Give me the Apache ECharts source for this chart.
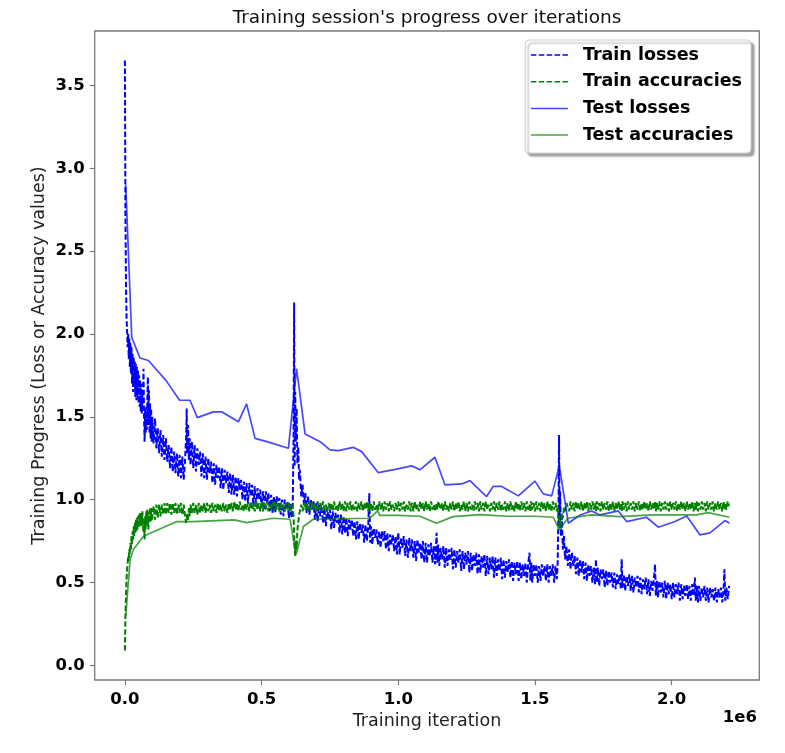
<!DOCTYPE html>
<html>
<head>
<meta charset="utf-8">
<script src="https://cdn.jsdelivr.net/npm/echarts@6/dist/echarts.min.js"></script>
<style>
  html, body { margin: 0; padding: 0; background: #fff; }
  #main { width: 785px; height: 753px; }
</style>
</head>
<body>
<div id="main"></div>
<script>
// iterations where the train metrics were logged (in thousands)
let trainIterK = [
    0, 2, 4, 6, 8, 10, 12, 14, 16, 18,
    20, 22, 24, 26, 28, 30, 32, 34, 36, 38,
    40, 42, 44, 46, 48, 50, 52, 54, 56, 58,
    60, 62, 64, 66, 68, 70, 72, 74, 76, 78,
    80, 82, 84, 86, 88, 90, 92, 94, 96, 98,
    100, 105, 110, 115, 120, 125, 130, 135, 140, 145,
    150, 155, 160, 165, 170, 175, 180, 185, 190, 195,
    200, 205, 210, 215, 220,
    224, 226, 228, 231, 234, 237, 240, 245,
    250, 255, 260, 265, 270, 275, 280, 285, 290, 295,
    300, 305, 310, 315, 320, 325, 330, 335, 340, 345,
    350, 355, 360, 365, 370, 375, 380, 385, 390, 395,
    400, 405, 410, 415, 420, 425, 430, 435, 440, 445,
    450, 455, 460, 465, 470, 475, 480, 485, 490, 495,
    500, 505, 510, 515, 520, 525, 530, 535, 540, 545,
    550, 555, 560, 565, 570, 575, 580, 585, 590, 595,
    600, 605, 610, 614,
    617, 619, 621, 623, 625, 628, 631, 634, 637, 640, 645, 650, 655, 660,
    665, 670, 675, 680, 685, 690, 695, 700,
    705, 710, 715, 720, 725, 730, 735, 740, 745, 750,
    755, 760, 765, 770, 775, 780, 785, 790, 795, 800,
    805, 810, 815, 820, 825, 830, 835, 840, 845, 850,
    855, 860, 865, 870, 875, 880, 885, 890,
    894, 897,
    900, 905, 910, 915, 920, 925, 930, 935, 940, 945,
    950, 955, 960, 965, 970, 975, 980, 985, 990, 995,
    1000, 1005, 1010, 1015, 1020, 1025, 1030, 1035, 1040, 1045,
    1050, 1055, 1060, 1065, 1070, 1075, 1080, 1085, 1090, 1095,
    1100, 1105, 1110, 1115, 1120, 1125, 1130, 1135, 1140,
    1143, 1146,
    1150, 1155, 1160, 1165, 1170, 1175, 1180, 1185, 1190, 1195,
    1200, 1205, 1210, 1215, 1220, 1225, 1230, 1235, 1240, 1245,
    1250, 1255, 1260, 1265, 1270, 1275, 1280, 1285, 1290, 1295,
    1300, 1305, 1310, 1315, 1320, 1325, 1330, 1335, 1340, 1345,
    1350, 1355, 1360, 1365, 1370, 1375, 1380, 1385, 1390, 1395,
    1400, 1405, 1410, 1415, 1420, 1425, 1430, 1435, 1440, 1445,
    1450, 1455, 1460, 1465, 1470, 1475, 1480,
    1483, 1486,
    1490, 1495, 1500, 1505, 1510, 1515, 1520, 1525, 1530, 1535,
    1540, 1545, 1550, 1555, 1560, 1565, 1570, 1575, 1580,
    1583, 1586, 1588, 1590, 1592, 1595, 1598, 1602, 1606, 1610, 1615,
    1620, 1625, 1630, 1635, 1640, 1645, 1650, 1655, 1660, 1665,
    1670, 1675, 1680, 1685, 1690, 1695, 1700, 1705, 1710, 1715, 1720,
    1723, 1726,
    1730, 1735, 1740, 1745, 1750, 1755, 1760, 1765, 1770, 1775,
    1780, 1785, 1790, 1795, 1800, 1805, 1810,
    1814, 1817,
    1820, 1825, 1830, 1835, 1840, 1845, 1850, 1855, 1860, 1865,
    1870, 1875, 1880, 1885, 1890, 1895, 1900, 1905, 1910, 1915,
    1920, 1925, 1930, 1935,
    1939, 1942, 1946,
    1950, 1955, 1960, 1965, 1970, 1975, 1980, 1985, 1990, 1995,
    2000, 2005, 2010, 2015, 2020, 2025, 2030, 2035, 2040, 2045,
    2050, 2055, 2060, 2065, 2070, 2075, 2080,
    2085, 2088, 2092, 2096,
    2100, 2105, 2110, 2115, 2120, 2125, 2130, 2135, 2140, 2145,
    2150, 2155, 2160, 2165, 2170, 2175, 2180, 2185, 2190,
    2193, 2196, 2200, 2205, 2210
];

let trainLoss = [
    3.65, 2.70, 2.30, 2.10, 2.02, 1.92, 2.00, 1.85, 1.98, 1.80,
    1.95, 1.76, 1.92, 1.70, 1.88, 1.65, 1.86, 1.68, 1.84, 1.62,
    1.82, 1.60, 1.80, 1.62, 1.78, 1.58, 1.75, 1.56, 1.72, 1.53,
    1.70, 1.52, 1.66, 1.55, 1.79, 1.50, 1.35, 1.55, 1.40, 1.56,
    1.42, 1.60, 1.74, 1.45, 1.66, 1.40, 1.58, 1.37, 1.55, 1.35,
    1.50, 1.34, 1.49, 1.31, 1.43, 1.28, 1.42, 1.26, 1.39, 1.24,
    1.37, 1.23, 1.33, 1.19, 1.32, 1.17, 1.29, 1.16, 1.28, 1.14,
    1.27, 1.13, 1.26, 1.12, 1.24,
    1.38, 1.55, 1.28, 1.45, 1.24, 1.37, 1.21, 1.35,
    1.19, 1.33, 1.17, 1.31, 1.21, 1.29, 1.14, 1.28, 1.13, 1.26,
    1.12, 1.25, 1.16, 1.23, 1.10, 1.22, 1.09, 1.21, 1.13, 1.20,
    1.07, 1.19, 1.06, 1.18, 1.10, 1.17, 1.04, 1.16, 1.03, 1.15,
    1.03, 1.14, 1.02, 1.13, 1.06, 1.12, 1.00, 1.11, 0.99, 1.10,
    0.98, 1.10, 1.02, 1.09, 0.96, 1.08, 0.96, 1.07, 1.00, 1.06,
    0.95, 1.05, 0.94, 1.05, 0.98, 1.04, 0.93, 1.03, 0.92, 1.02,
    0.92, 1.02, 0.96, 1.01, 0.91, 1.00, 0.90, 1.00, 0.94, 0.99,
    0.89, 0.98, 0.89, 0.97,
    1.40, 2.19, 1.20, 1.65, 1.35, 1.55, 1.22, 1.32, 1.12, 1.18, 1.02, 1.09, 0.97, 1.04,
    0.92, 1.02, 0.91, 1.00, 0.94, 0.99, 0.88, 0.98,
    0.87, 0.97, 0.90, 0.96, 0.86, 0.95, 0.84, 0.95, 0.88, 0.94,
    0.82, 0.93, 0.83, 0.92, 0.86, 0.91, 0.80, 0.91, 0.79, 0.90,
    0.80, 0.89, 0.78, 0.88, 0.82, 0.88, 0.78, 0.87, 0.76, 0.87,
    0.76, 0.86, 0.80, 0.85, 0.74, 0.85, 0.75, 0.84,
    1.04, 0.74,
    0.84, 0.73, 0.83, 0.77, 0.82, 0.73, 0.81, 0.71, 0.81, 0.75,
    0.81, 0.70, 0.80, 0.69, 0.79, 0.73, 0.79, 0.69, 0.78, 0.67,
    0.80, 0.67, 0.77, 0.71, 0.78, 0.66, 0.76, 0.65, 0.77, 0.69,
    0.76, 0.65, 0.75, 0.63, 0.76, 0.68, 0.74, 0.64, 0.75, 0.62,
    0.74, 0.62, 0.73, 0.66, 0.74, 0.62, 0.72, 0.61, 0.80,
    0.62, 0.73,
    0.60, 0.71, 0.64, 0.72, 0.59, 0.71, 0.60, 0.70, 0.63, 0.71,
    0.58, 0.70, 0.59, 0.69, 0.62, 0.70, 0.57, 0.69, 0.58, 0.68,
    0.61, 0.69, 0.56, 0.68, 0.57, 0.67, 0.60, 0.68, 0.55, 0.67,
    0.56, 0.66, 0.59, 0.67, 0.54, 0.66, 0.55, 0.65, 0.58, 0.66,
    0.53, 0.65, 0.54, 0.64, 0.57, 0.65, 0.52, 0.64, 0.53, 0.63,
    0.56, 0.64, 0.53, 0.63, 0.51, 0.62, 0.55, 0.63, 0.51, 0.62,
    0.52, 0.61, 0.54, 0.62, 0.50, 0.61, 0.68,
    0.51, 0.62,
    0.50, 0.61, 0.54, 0.61, 0.50, 0.60, 0.51, 0.61, 0.54, 0.60,
    0.51, 0.61, 0.50, 0.60, 0.54, 0.61, 0.50, 0.60, 0.52,
    0.62, 0.95, 1.39, 0.85, 1.05, 0.78, 0.90, 0.70, 0.78, 0.64, 0.72,
    0.60, 0.70, 0.58, 0.68, 0.60, 0.66, 0.55, 0.65, 0.54, 0.64,
    0.56, 0.63, 0.52, 0.62, 0.51, 0.61, 0.54, 0.60, 0.50, 0.59, 0.49,
    0.64, 0.50,
    0.59, 0.48, 0.58, 0.52, 0.58, 0.47, 0.57, 0.48, 0.57, 0.50,
    0.56, 0.47, 0.56, 0.46, 0.55, 0.49, 0.55,
    0.46, 0.64,
    0.47, 0.55, 0.45, 0.54, 0.48, 0.55, 0.45, 0.54, 0.44, 0.53,
    0.47, 0.54, 0.44, 0.53, 0.43, 0.52, 0.46, 0.53, 0.43, 0.52,
    0.42, 0.51, 0.45, 0.52,
    0.61, 0.42, 0.51,
    0.41, 0.51, 0.44, 0.50, 0.41, 0.51, 0.40, 0.50, 0.43, 0.49,
    0.40, 0.50, 0.41, 0.49, 0.43, 0.50, 0.39, 0.49, 0.40, 0.48,
    0.42, 0.49, 0.40, 0.48, 0.39, 0.49, 0.42,
    0.53, 0.39, 0.48, 0.38,
    0.48, 0.39, 0.47, 0.41, 0.48, 0.39, 0.47, 0.38, 0.47, 0.41,
    0.46, 0.39, 0.47, 0.38, 0.46, 0.41, 0.47, 0.38, 0.46,
    0.58, 0.39, 0.47, 0.40, 0.48
];

let trainAcc = [
    0.09, 0.30, 0.42, 0.52, 0.58, 0.62, 0.66, 0.63, 0.70, 0.67,
    0.74, 0.70, 0.78, 0.73, 0.81, 0.76, 0.84, 0.78, 0.86, 0.80,
    0.88, 0.81, 0.89, 0.82, 0.90, 0.83, 0.91, 0.84, 0.92, 0.85,
    0.92, 0.84, 0.93, 0.86, 0.80, 0.88, 0.76, 0.90, 0.82, 0.93,
    0.85, 0.94, 0.86, 0.82, 0.93, 0.86, 0.95, 0.87, 0.95, 0.87,
    0.87, 0.96, 0.88, 0.97, 0.89, 0.97, 0.90, 0.97, 0.91, 0.98,
    0.91, 0.98, 0.92, 0.98, 0.91, 0.98, 0.92, 0.98, 0.91, 0.97,
    0.92, 0.98, 0.91, 0.97, 0.90,
    0.86, 0.88, 0.92, 0.87, 0.95, 0.90, 0.97, 0.92,
    0.98, 0.92, 0.97, 0.91, 0.98, 0.92, 0.97, 0.93, 0.98, 0.92,
    0.98, 0.93, 0.97, 0.92, 0.98, 0.93, 0.97, 0.92, 0.98, 0.93,
    0.97, 0.93, 0.98, 0.93, 0.97, 0.92, 0.98, 0.94, 0.98, 0.93,
    0.99, 0.94, 0.98, 0.93, 0.99, 0.94, 0.97, 0.93, 0.98, 0.94,
    0.98, 0.93, 0.99, 0.94, 0.97, 0.93, 0.99, 0.94, 0.98, 0.93,
    0.99, 0.93, 0.98, 0.94, 0.99, 0.93, 0.97, 0.94, 0.99, 0.93,
    0.99, 0.94, 0.98, 0.93, 0.99, 0.94, 0.97, 0.93, 0.98, 0.94,
    0.98, 0.93, 0.97, 0.95,
    0.90, 0.80, 0.70, 0.66, 0.75, 0.70, 0.82, 0.86, 0.91, 0.93, 0.97, 0.93, 0.98, 0.94,
    0.98, 0.93, 0.99, 0.94, 0.98, 0.94, 0.98, 0.93,
    0.99, 0.94, 0.98, 0.93, 0.99, 0.94, 0.97, 0.93, 0.98, 0.94,
    0.98, 0.93, 0.99, 0.94, 0.97, 0.93, 0.99, 0.94, 0.98, 0.93,
    0.99, 0.93, 0.98, 0.94, 0.99, 0.93, 0.97, 0.94, 0.99, 0.93,
    0.98, 0.94, 0.99, 0.93, 0.98, 0.94, 0.99, 0.93,
    0.98, 0.94,
    0.98, 0.93, 0.99, 0.94, 0.97, 0.93, 0.99, 0.94, 0.98, 0.93,
    0.99, 0.94, 0.98, 0.93, 0.99, 0.94, 0.97, 0.93, 0.98, 0.94,
    0.99, 0.93, 0.98, 0.94, 0.99, 0.93, 0.97, 0.94, 0.99, 0.93,
    0.98, 0.93, 0.99, 0.94, 0.97, 0.93, 0.99, 0.94, 0.98, 0.93,
    0.99, 0.94, 0.98, 0.93, 0.99, 0.94, 0.97, 0.93, 0.98,
    0.94, 0.99,
    0.99, 0.94, 0.98, 0.93, 0.99, 0.94, 0.97, 0.93, 0.98, 0.94,
    0.99, 0.93, 0.98, 0.94, 0.99, 0.93, 0.97, 0.94, 0.99, 0.93,
    0.98, 0.93, 0.99, 0.94, 0.97, 0.93, 0.99, 0.94, 0.98, 0.93,
    0.99, 0.94, 0.98, 0.93, 0.99, 0.94, 0.97, 0.93, 0.98, 0.94,
    0.99, 0.93, 0.98, 0.94, 0.99, 0.93, 0.97, 0.94, 0.99, 0.93,
    0.98, 0.93, 0.99, 0.94, 0.97, 0.93, 0.99, 0.94, 0.98, 0.93,
    0.99, 0.94, 0.98, 0.93, 0.99, 0.94, 0.97,
    0.93, 0.99,
    0.94, 0.98, 0.93, 0.99, 0.94, 0.98, 0.93, 0.99, 0.94, 0.98,
    0.93, 0.99, 0.94, 0.98, 0.93, 0.99, 0.94, 0.98, 0.93,
    0.96, 0.90, 0.86, 0.83, 0.88, 0.85, 0.92, 0.89, 0.95, 0.93, 0.98,
    0.98, 0.93, 0.99, 0.94, 0.98, 0.93, 0.99, 0.94, 0.98, 0.94,
    0.99, 0.93, 0.98, 0.94, 0.99, 0.93, 0.98, 0.94, 0.99, 0.94, 0.98,
    0.93, 0.99,
    0.94, 0.98, 0.93, 0.99, 0.94, 0.98, 0.94, 0.99, 0.93, 0.98,
    0.94, 0.99, 0.93, 0.98, 0.94, 0.99, 0.94,
    0.98, 0.93,
    0.99, 0.94, 0.98, 0.93, 0.99, 0.94, 0.98, 0.94, 0.99, 0.93,
    0.98, 0.94, 0.99, 0.93, 0.98, 0.94, 0.99, 0.94, 0.98, 0.93,
    0.99, 0.94, 0.98, 0.94,
    0.99, 0.93, 0.98,
    0.94, 0.99, 0.93, 0.98, 0.94, 0.99, 0.94, 0.98, 0.93, 0.99,
    0.94, 0.98, 0.94, 0.99, 0.93, 0.98, 0.94, 0.99, 0.94, 0.98,
    0.93, 0.99, 0.94, 0.98, 0.94, 0.99, 0.93,
    0.98, 0.94, 0.99, 0.93,
    0.98, 0.94, 0.99, 0.94, 0.98, 0.93, 0.99, 0.94, 0.98, 0.94,
    0.99, 0.93, 0.98, 0.94, 0.99, 0.94, 0.98, 0.93, 0.99,
    0.94, 0.98, 0.94, 0.99, 0.96
];

// test evaluations: [iteration (thousands), value]
let testLoss = [
    [3, 2.90], [25, 1.98], [55, 1.855], [86, 1.84], [150, 1.72],
    [200, 1.60], [238, 1.60], [265, 1.495], [323, 1.53], [354, 1.53],
    [415, 1.47], [445, 1.578], [476, 1.37], [519, 1.35], [598, 1.31],
    [628, 1.79], [659, 1.397], [714, 1.35], [750, 1.30], [781, 1.296],
    [835, 1.316], [866, 1.29], [927, 1.163], [994, 1.184], [1049, 1.204],
    [1079, 1.18], [1134, 1.256], [1171, 1.089], [1232, 1.095], [1262, 1.115],
    [1323, 1.019], [1347, 1.08], [1378, 1.08], [1439, 1.023], [1500, 1.112],
    [1530, 1.035], [1561, 1.023], [1589, 1.204], [1622, 0.858], [1665, 0.908],
    [1707, 0.932], [1738, 0.908], [1805, 0.932], [1835, 0.868], [1908, 0.894],
    [1951, 0.834], [2012, 0.868], [2055, 0.902], [2103, 0.788], [2140, 0.80],
    [2195, 0.874], [2211, 0.858]
];

let testAcc = [
    [3, 0.30], [19, 0.637], [31, 0.70], [67, 0.778], [92, 0.798],
    [190, 0.868], [250, 0.868], [400, 0.878], [445, 0.862], [543, 0.888],
    [604, 0.882], [626, 0.667], [653, 0.838], [689, 0.882], [895, 0.888],
    [925, 0.932], [932, 0.905], [1000, 0.905], [1080, 0.90], [1140, 0.858],
    [1200, 0.898], [1300, 0.91], [1400, 0.90], [1500, 0.90], [1567, 0.894],
    [1589, 0.818], [1620, 0.888], [1707, 0.908], [1810, 0.898], [1930, 0.908],
    [2090, 0.908], [2134, 0.922], [2211, 0.894]
];

let seriesNames = ["Train losses", "Train accuracies", "Test losses", "Test accuracies"];
let xTicks = [0, 0.5, 1.0, 1.5, 2.0]; // in 1e6
let yTicks = [0, 0.5, 1.0, 1.5, 2.0, 2.5, 3.0, 3.5];

if (trainLoss.length !== trainIterK.length || trainAcc.length !== trainIterK.length) {
    throw new Error("length mismatch " + trainIterK.length + " " + trainLoss.length + " " + trainAcc.length);
}

let myChart = echarts.init(document.getElementById("main"));

const FONT = "DejaVu Sans";
const dash = [5.5, 2.4];

let toPairs = (ys) => trainIterK.map((k, i) => [k * 1000, ys[i]]);
let scaleK = (pairs) => pairs.map((p) => [p[0] * 1000, p[1]]);

let axisGray = "#7a7a7a";

let option = {
    animation: false,
    backgroundColor: "#fff",
    grid: {
        left: 94.7,
        right: 25.7,
        top: 31,
        bottom: 73,
        show: true,
        borderColor: axisGray,
        borderWidth: 1.3,
        backgroundColor: "transparent"
    },
    graphic: [
        {
            type: "text",
            x: 427,
            y: 18,
            style: {
                text: "Training session's progress over iterations",
                font: "18.5px " + FONT,
                fill: "#111",
                align: "center",
                verticalAlign: "middle"
            }
        },
        {
            type: "text",
            x: 757,
            y: 718,
            style: {
                text: "1e6",
                font: "bold 16.5px " + FONT,
                fill: "#000",
                align: "right",
                verticalAlign: "middle"
            }
        }
    ],
    legend: {
        orient: "vertical",
        right: 34,
        top: 40,
        padding: [6, 9, 9, 5],
        itemWidth: 37,
        itemHeight: 14,
        itemGap: 8.7,
        backgroundColor: "#fff",
        borderColor: "#cccccc",
        borderWidth: 1,
        borderRadius: 4,
        shadowColor: "rgba(0,0,0,0.35)",
        shadowBlur: 2,
        shadowOffsetX: 3,
        shadowOffsetY: 3,
        itemStyle: { opacity: 0 },
        lineStyle: { width: 1.5 },
        textStyle: {
            fontFamily: FONT,
            fontWeight: "bold",
            fontSize: 17.5,
            lineHeight: 18,
            color: "#000",
            padding: [0, 0, 0, 10]
        },
        data: seriesNames
    },
    xAxis: {
        type: "value",
        min: -110500,
        max: 2320500,
        name: "Training iteration",
        nameLocation: "middle",
        nameGap: 29,
        nameTextStyle: { fontFamily: FONT, fontSize: 17.5, color: "#222" },
        splitLine: { show: false },
        axisLine: { show: false, onZero: false },
        axisTick: {
            show: true,
            length: 5,
            lineStyle: { color: axisGray, width: 1.2 },
            customValues: xTicks.map((v) => v * 1e6)
        },
        axisLabel: {
            fontFamily: FONT,
            fontWeight: "bold",
            fontSize: 16.5,
            color: "#000",
            margin: 11,
            customValues: xTicks.map((v) => v * 1e6),
            formatter: (v) => (v / 1e6).toFixed(1)
        }
    },
    yAxis: {
        type: "value",
        min: -0.088,
        max: 3.828,
        name: "Training Progress (Loss or Accuracy values)",
        nameLocation: "middle",
        nameGap: 46,
        nameMoveOverlap: false,
        nameTextStyle: { fontFamily: FONT, fontSize: 17.5, color: "#222" },
        splitLine: { show: false },
        axisLine: { show: false, onZero: false },
        axisTick: {
            show: true,
            length: 5,
            lineStyle: { color: axisGray, width: 1.2 },
            customValues: yTicks
        },
        axisLabel: {
            fontFamily: FONT,
            fontWeight: "bold",
            fontSize: 16.5,
            color: "#000",
            margin: 10,
            customValues: yTicks,
            formatter: (v) => v.toFixed(1)
        }
    },
    series: [
        {
            name: seriesNames[0],
            type: "line",
            symbol: "none",
            data: toPairs(trainLoss),
            lineStyle: { color: "#0000ff", width: 2, type: dash },
            itemStyle: { color: "#0000ff" }
        },
        {
            name: seriesNames[1],
            type: "line",
            symbol: "none",
            data: toPairs(trainAcc),
            lineStyle: { color: "#008000", width: 2, type: dash },
            itemStyle: { color: "#008000" }
        },
        {
            name: seriesNames[2],
            type: "line",
            symbol: "none",
            data: scaleK(testLoss),
            lineStyle: { color: "rgba(0,0,255,0.72)", width: 1.7 },
            itemStyle: { color: "rgba(0,0,255,0.72)" }
        },
        {
            name: seriesNames[3],
            type: "line",
            symbol: "none",
            data: scaleK(testAcc),
            lineStyle: { color: "rgba(0,128,0,0.72)", width: 1.7 },
            itemStyle: { color: "rgba(0,128,0,0.72)" }
        }
    ]
};

myChart.setOption(option);
</script>
</body>
</html>
